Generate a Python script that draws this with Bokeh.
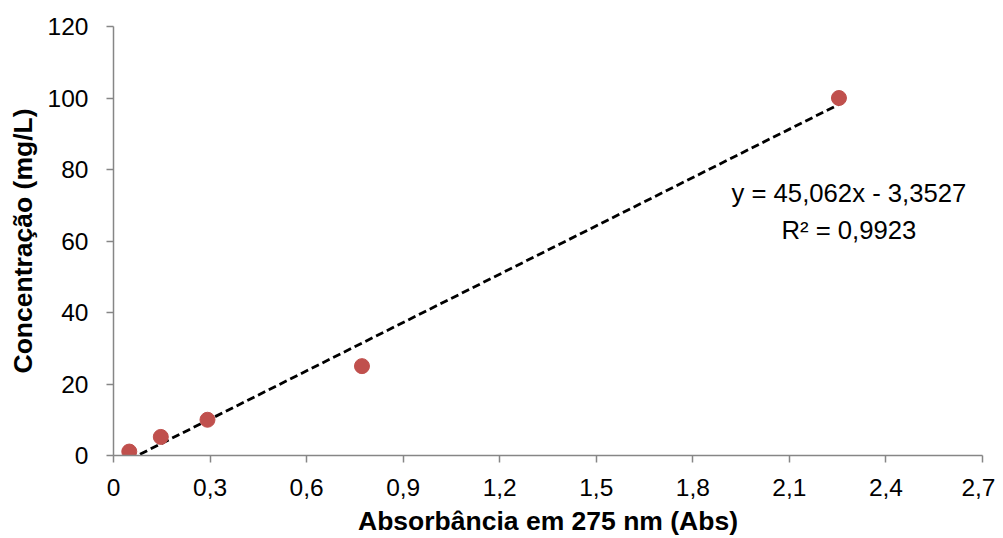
from bokeh.plotting import figure
from bokeh.models import FixedTicker, CustomJSTickFormatter, Label, Range1d, ColumnDataSource
from bokeh.embed import file_html
from bokeh.resources import INLINE

# Data
absorbance = [0.049, 0.147, 0.292, 0.772, 2.254]
concentration = [1.1, 5.2, 10.0, 25.0, 100.0]
slope = 45.062
intercept = -3.3527
r_squared = 0.9923
x_ticks = [0, 0.3, 0.6, 0.9, 1.2, 1.5, 1.8, 2.1, 2.4, 2.7]
y_ticks = [0, 20, 40, 60, 80, 100, 120]

FONT = "Liberation Sans"
AXIS_COLOR = "#868686"

p = figure(width=995, height=538, output_backend="svg", toolbar_location=None,
           x_range=Range1d(0, 2.7), y_range=Range1d(0, 120),
           min_border_left=113, min_border_right=13, min_border_top=26, min_border_bottom=82)
p.outline_line_color = None
p.xgrid.grid_line_color = None
p.ygrid.grid_line_color = None
p.background_fill_color = "white"
p.border_fill_color = "white"

# trendline from fitted coefficients across data extent
x0, x1 = min(absorbance), max(absorbance)
trend = ColumnDataSource(dict(x=[x0, x1], y=[slope * x0 + intercept, slope * x1 + intercept]))
p.line("x", "y", source=trend, line_color="black", line_width=2.8, line_dash="8 4")

pts = ColumnDataSource(dict(x=absorbance, y=concentration))
p.scatter("x", "y", source=pts, size=15, fill_color="#C0504D", line_color="#C0504D")

fmt = CustomJSTickFormatter(code="""
if (tick == 0) return "0";
return tick.toFixed(1).replace('.', ',');
""")

p.xaxis.ticker = FixedTicker(ticks=x_ticks)
p.yaxis.ticker = FixedTicker(ticks=y_ticks)
p.xaxis.formatter = fmt
for ax in (p.xaxis, p.yaxis):
    ax.axis_line_color = AXIS_COLOR
    ax.axis_line_width = 1.5
    ax.major_tick_line_color = AXIS_COLOR
    ax.major_tick_line_width = 1.5
    ax.major_tick_out = 7
    ax.major_tick_in = 0
    ax.minor_tick_line_color = None
    ax.major_label_text_font = FONT
    ax.major_label_text_font_size = "24.5px"
    ax.major_label_text_color = "black"
    ax.axis_label_text_font = FONT
    ax.axis_label_text_font_size = "26.5px"
    ax.axis_label_text_font_style = "bold"
    ax.axis_label_text_color = "black"

p.xaxis.axis_label = "Absorbância em 275 nm (Abs)"
p.yaxis.axis_label = "Concentração (mg/L)"
p.xaxis.major_label_standoff = 16
p.yaxis.major_label_standoff = 18
p.xaxis.axis_label_standoff = 7
p.yaxis.axis_label_standoff = 7

eq_text = f"y = {slope:.3f}x - {abs(intercept):.4f}".replace('.', ',')
r2_text = f"R² = {r_squared:.4f}".replace('.', ',')
p.add_layout(Label(x=2.285, y=73.4, text=eq_text, text_align="center", text_baseline="middle",
                   text_font=FONT, text_font_size="25.7px", text_color="black"))
p.add_layout(Label(x=2.285, y=63.1, text=r2_text, text_align="center", text_baseline="middle",
                   text_font=FONT, text_font_size="25.7px", text_color="black"))

open("out.html", "w").write(file_html(p, INLINE))
